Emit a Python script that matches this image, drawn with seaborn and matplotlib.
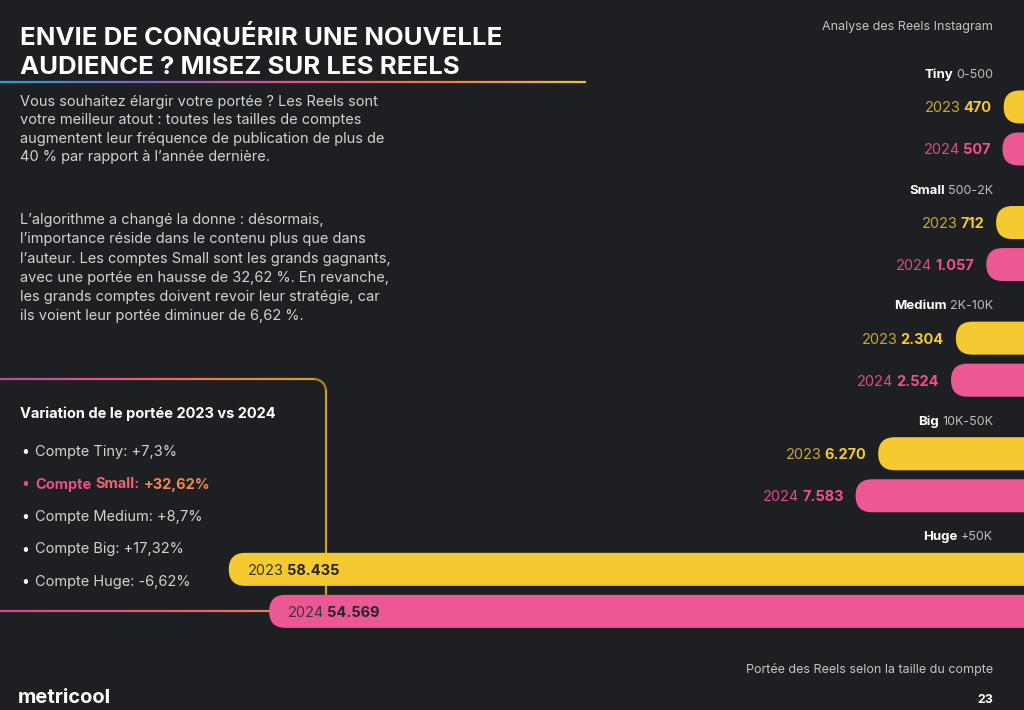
import numpy as np
import pandas as pd
import seaborn as sb
import matplotlib.pyplot as plt
from matplotlib.collections import LineCollection
from matplotlib.colors import LinearSegmentedColormap
from matplotlib.patches import FancyBboxPatch
from matplotlib.transforms import IdentityTransform

# data
sizes = ["Tiny", "Small", "Medium", "Big", "Huge"]
ranges = ["0-500", "500-2K", "2K-10K", "10K-50K", "+50K"]
years = ["2023", "2024"]
reach_2023 = [470, 712, 2304, 6270, 58435]
reach_2024 = [507, 1057, 2524, 7583, 54569]
variation = ["Compte Tiny: +7,3%", "Compte Small: +32,62%", "Compte Medium: +8,7%",
             "Compte Big: +17,32%", "Compte Huge: -6,62%"]

title = ["ENVIE DE CONQUÉRIR UNE NOUVELLE", "AUDIENCE ? MISEZ SUR LES REELS"]
para1 = ["Vous souhaitez élargir votre portée ? Les Reels sont",
         "votre meilleur atout : toutes les tailles de comptes",
         "augmentent leur fréquence de publication de plus de",
         "40 % par rapport à l’année dernière."]
para2 = ["L’algorithme a changé la donne : désormais,",
         "l’importance réside dans le contenu plus que dans",
         "l’auteur. Les comptes Small sont les grands gagnants,",
         "avec une portée en hausse de 32,62 %. En revanche,",
         "les grands comptes doivent revoir leur stratégie, car",
         "ils voient leur portée diminuer de 6,62 %."]

BG = "#1e1f22"
YEL = "#f5c930"
PINK = "#eb5894"
year_col = {"2023": "#c9a82e", "2024": "#d94d88"}
val_col = {"2023": "#f5c930", "2024": "#f0508e"}

plt.rcParams["font.family"] = ["Inter", "DejaVu Sans"]

df = pd.DataFrame({
    "size": sizes * 2,
    "year": ["2023"] * 5 + ["2024"] * 5,
    "reach": reach_2023 + reach_2024,
})

fig = plt.figure(figsize=(10.24, 7.10), dpi=100, facecolor=BG)
W, H = 1024, 710
renderer = fig.canvas.get_renderer()


def fx(x):
    return x / W


def fy(y):
    return 1 - y / H


# overlay for decorative lines (pixel coords, y down)
ov = fig.add_axes([0, 0, 1, 1], zorder=0)
ov.set_facecolor(BG)
ov.set_xlim(0, W)
ov.set_ylim(H, 0)
ov.axis("off")


def grad_line(xs, ys, colors, lw=1.6):
    pts = np.column_stack([xs, ys]).reshape(-1, 1, 2)
    segs = np.concatenate([pts[:-1], pts[1:]], axis=1)
    cmap = LinearSegmentedColormap.from_list("g", colors)
    lc = LineCollection(segs, colors=cmap(np.linspace(0, 1, len(segs))),
                        linewidths=lw, capstyle="butt")
    ov.add_collection(lc)


# title underline
xs = np.linspace(0, 586, 300)
grad_line(xs, np.full_like(xs, 82), ["#1fa3d6", "#7d63c6", "#e8508a", "#f07c45", "#f2c230"])

# box round the variation list
xs = np.linspace(0, 314, 200)
grad_line(xs, np.full_like(xs, 379), ["#b24e92", "#e5528a", "#ee7a4c", "#d4a031"])
t = np.linspace(0, np.pi / 2, 30)
grad_line(314 + 12 * np.sin(t), 391 - 12 * np.cos(t), ["#d4a031", "#c99f2c"])
ov.plot([326, 326], [391, 611], color="#c99f2c", lw=1.6)
xs = np.linspace(0, 326, 200)
grad_line(xs, np.full_like(xs, 611), ["#cf4a8c", "#e8586f", "#e9914a"])

# bars
ax = fig.add_axes([0, 0, 1, 1], zorder=1)
ax.patch.set_alpha(0)
sb.barplot(data=df, x="reach", y="size", hue="year", orient="h",
           palette={"2023": YEL, "2024": PINK}, saturation=1,
           width=0.727, gap=0.214, errorbar=None, legend=False, ax=ax)

p = 0.76
ax.set_xscale("function", functions=(lambda x: np.sign(x) * np.abs(x) ** p,
                                     lambda y: np.sign(y) * np.abs(y) ** (1 / p)))
ax.set_xlim(81500, 0)
ax.set_ylim(5.035, -1.107)
ax.axis("off")

# rounded bar ends
for bar in list(ax.patches):
    bb = bar.get_window_extent()
    bar.set_visible(False)
    rb = FancyBboxPatch((bb.x0, bb.y0), bb.width + 40, bb.height,
                        boxstyle=f"round,pad=0,rounding_size={bb.height / 2}",
                        transform=IdentityTransform(), facecolor=bar.get_facecolor(),
                        edgecolor="none", clip_on=False, zorder=2)
    ax.add_artist(rb)

# value labels
for yr, cont in zip(years, ax.containers):
    for bar in cont:
        v = bar.get_width()
        yc = bar.get_y() + bar.get_height() / 2
        lab = f"{int(v):,}".replace(",", ".")
        if v > 20000:
            ty = ax.annotate(yr, xy=(v, yc), xytext=(19, 0), textcoords="offset pixels",
                             ha="left", va="center_baseline", fontsize=10.5,
                             color="#3b3530", zorder=5)
            ax.annotate(lab, xy=(1, 0), xycoords=ty, xytext=(3, 0), textcoords="offset pixels",
                        ha="left", va="bottom", fontsize=10.5, fontweight="bold",
                        color="#262626", zorder=5)
        else:
            tv = ax.annotate(lab, xy=(v, yc), xytext=(-12, 0), textcoords="offset pixels",
                             ha="right", va="center_baseline", fontsize=10.5,
                             fontweight="bold", color=val_col[yr], zorder=5)
            ax.annotate(yr, xy=(0, 0), xycoords=tv, xytext=(-3, 0), textcoords="offset pixels",
                        ha="right", va="bottom", fontsize=10.5, color=year_col[yr], zorder=5)

# category labels
for i, (name, rng) in enumerate(zip(sizes, ranges)):
    tr = ax.annotate(rng, xy=(993 / W, i), xycoords=("axes fraction", "data"),
                     xytext=(0, 50), textcoords="offset pixels", ha="right",
                     va="baseline", fontsize=9, color="#bdbdbd")
    ax.annotate(name, xy=(0, 0), xycoords=tr, xytext=(-3, 0), textcoords="offset pixels",
                ha="right", va="bottom", fontsize=9.5, fontweight="bold", color="white")

# texts on the left
for k, line in enumerate(title):
    fig.text(fx(20), fy(45 + 29 * k), line, fontsize=18.5, fontweight="bold",
             color="white", va="baseline")
for k, line in enumerate(para1):
    fig.text(fx(20), fy(106 + 18.3 * k), line, fontsize=10.5, color="#d2d2d2", va="baseline")
for k, line in enumerate(para2):
    fig.text(fx(20), fy(224 + 19.3 * k), line, fontsize=10.5, color="#d2d2d2", va="baseline")

fig.text(fx(20), fy(418), "Variation de le portée 2023 vs 2024", fontsize=10.5,
         fontweight="bold", color="white", va="baseline")
for k, item in enumerate(variation):
    yb = 456 + 32.5 * k
    if k == 1:
        fig.text(fx(21), fy(yb), "•", fontsize=10, color="#ea4f8a", va="baseline")
        x = 35
        for piece, col in zip(item.split(" "), ["#ea4f8a", "#ed6374", "#f08850"]):
            tp = fig.text(fx(x), fy(yb), piece, fontsize=10.5, fontweight="bold",
                          color=col, va="baseline")
            x += tp.get_window_extent(renderer).width + 4
    else:
        fig.text(fx(21), fy(yb), "•", fontsize=10, color="white", va="baseline")
        fig.text(fx(35), fy(yb), item, fontsize=10.5, color="#d2d2d2", va="baseline")

fig.text(fx(993), fy(30), "Analyse des Reels Instagram", fontsize=9, color="#c4c4c4",
         ha="right", va="baseline")
fig.text(fx(993), fy(673), "Portée des Reels selon la taille du compte", fontsize=9,
         color="#c4c4c4", ha="right", va="baseline")
fig.text(fx(993), fy(703), "23", fontsize=9, fontweight="bold", color="white",
         ha="right", va="baseline")
fig.text(fx(18), fy(703), "metricool", fontsize=14.5, fontweight="bold", color="white",
         va="baseline")

fig.savefig("out.png", dpi=100, facecolor=BG)
